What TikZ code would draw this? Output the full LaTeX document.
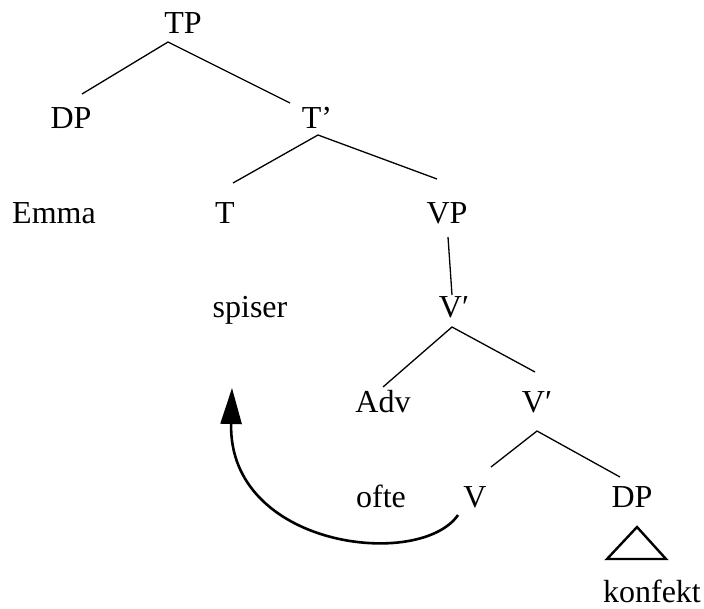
\documentclass[tikz,border=0pt]{standalone}
\usepackage{fontspec}
\setmainfont{Liberation Serif}
\usetikzlibrary{arrows.meta}
\begin{document}
\begin{tikzpicture}[x=1pt,y=-1pt,
  lbl/.style={inner sep=0pt,anchor=base,font=\fontsize{32}{38}\selectfont},
  branch/.style={line width=1.3pt},
  roof/.style={line width=2.4pt,line join=miter},
  move/.style={line width=2.6pt,-{Triangle[length=36pt,width=21pt]}}]
\useasboundingbox (0,0) rectangle (704,608);
% labels
\node[lbl] (TP) at (183,33) {TP};
\node[lbl] (DPa) at (71,128) {DP};
\node[lbl] (Tbar) at (317,128) {T’};
\node[lbl] (Emma) at (54,223) {Emma};
\node[lbl] (T) at (225,223) {T};
\node[lbl] (VP) at (447,223) {VP};
\node[lbl] (spiser) at (250,317) {spiser};
\node[lbl] (Vbara) at (454,317) {V′};
\node[lbl] (Adv) at (383,412) {Adv};
\node[lbl] (Vbarb) at (537,412) {V′};
\node[lbl] (ofte) at (381,507) {ofte};
\node[lbl] (V) at (475,507) {V};
\node[lbl] (DPb) at (632,507) {DP};
\node[lbl] (konfekt) at (652,602) {konfekt};
% branch end points
\coordinate (tpA) at (168,42);
\coordinate (tpL) at (82,94);
\coordinate (tpR) at (290,103);
\coordinate (tbA) at (318,135);
\coordinate (tbL) at (233,183);
\coordinate (tbR) at (437,179);
\coordinate (vpT) at (448,237);
\coordinate (vpB) at (452,295);
\coordinate (vaA) at (452,327);
\coordinate (vaL) at (383,387);
\coordinate (vaR) at (535,372);
\coordinate (vbA) at (537,431);
\coordinate (vbL) at (491,467);
\coordinate (vbR) at (620,477);
\coordinate (roofA) at (637,527);
\coordinate (roofL) at (607,559);
\coordinate (roofR) at (666,559);
\coordinate (mvS) at (458,515);
\coordinate (mvE) at (232,388);
% branches
\draw[branch] (tpL) -- (tpA) -- (tpR);
\draw[branch] (tbL) -- (tbA) -- (tbR);
\draw[branch] (vpT) -- (vpB);
\draw[branch] (vaL) -- (vaA) -- (vaR);
\draw[branch] (vbL) -- (vbA) -- (vbR);
\draw[roof] (roofA) -- (roofL) -- (roofR) -- cycle;
% movement arrow
\draw[move] (mvS) .. controls (420,570) and (228,548) .. (mvE);
\end{tikzpicture}
\end{document}
